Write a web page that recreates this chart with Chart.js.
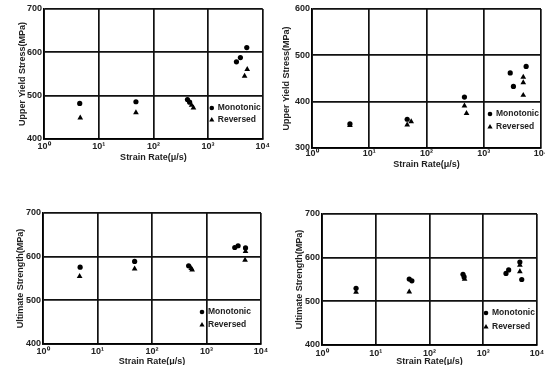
<!DOCTYPE html>
<html>
<head>
<meta charset="utf-8">
<script src="https://cdn.jsdelivr.net/npm/chart.js@4.4.1/dist/chart.umd.min.js"></script>
<style>
  html, body { margin: 0; padding: 0; background: #fff; }
  body { width: 545px; height: 365px; overflow: hidden; position: relative; }
  canvas { position: absolute; }
</style>
</head>
<body>
<canvas id="c1"></canvas>
<canvas id="c2"></canvas>
<canvas id="c3"></canvas>
<canvas id="c4"></canvas>
<script>
// shared axis data
const xTickValues = [1, 10, 100, 1000, 10000];
const xTickLabels = ['10⁰', '10¹', '10²', '10³', '10⁴'];
const seriesNames = ['Monotonic', 'Reversed'];
const xTitle = 'Strain Rate(μ/s)';

// top left: upper yield stress
const yieldA_mono = [[4.5, 482], [48, 486], [420, 491], [460, 485], [3300, 578], [3900, 588], [5100, 611]];
const yieldA_rev = [[4.6, 449], [48, 461], [500, 478], [540, 472], [4650, 545], [5200, 561]];
const yieldA_ticks = [400, 500, 600, 700];

// top right: upper yield stress
const yieldB_mono = [[4.6, 352], [46, 362], [460, 410], [2900, 462], [3300, 433], [5500, 476]];
const yieldB_rev = [[4.6, 349], [46, 350], [54, 357], [460, 391], [500, 375], [4900, 453], [4900, 441], [4900, 414]];
const yieldB_ticks = [300, 400, 500, 600];

// bottom left: ultimate strength
const ultA_mono = [[4.8, 576], [48, 589], [470, 579], [3300, 621], [3800, 625], [5200, 620]];
const ultA_rev = [[4.7, 555], [48, 572], [525, 573], [545, 570], [5200, 612], [5100, 592]];
const ultA_ticks = [400, 500, 600, 700];

// bottom right: ultimate strength
const ultB_mono = [[4.3, 530], [42, 551], [47, 547], [420, 562], [440, 556], [2650, 564], [2970, 572], [4800, 590], [5200, 550]];
const ultB_rev = [[4.3, 521], [42, 522], [450, 551], [4800, 583], [4800, 568]];
const ultB_ticks = [400, 500, 600, 700];

const FONT = '"Liberation Sans", Arial, sans-serif';
Chart.defaults.font.family = FONT;
Chart.defaults.font.size = 9;
Chart.defaults.font.weight = 'bold';
Chart.defaults.color = '#222';

// legend drawn inside the lower right cell
const cornerLegend = {
    id: 'cornerLegend',
    afterDatasetsDraw(chart, args, opts) {
        const { ctx, chartArea } = chart;
        chart.data.datasets.forEach((ds, i) => {
            const x = chartArea.right + opts.dx;
            const y = chartArea.bottom + opts.dy[i];
            ctx.save();
            ctx.fillStyle = '#000';
            Chart.helpers.drawPoint(ctx, {
                pointStyle: ds.pointStyle,
                radius: ds.pointStyle === 'triangle' ? 3 : 2.3,
                rotation: 0,
                borderWidth: 0
            }, x, y);
            ctx.font = 'bold 8.5px ' + FONT;
            ctx.textBaseline = 'middle';
            ctx.textAlign = 'left';
            ctx.fillStyle = '#222';
            ctx.fillText(ds.label, x + opts.gap, y);
            ctx.restore();
        });
    }
};

const toPts = arr => arr.map(p => ({ x: p[0], y: p[1] }));

const panels = [
    { id: 'c1', left: 0, top: 0, w: 272, h: 180, pad: { left: 17, top: 9, right: 8, bottom: 17 },
      yW: 27, xH: 24, tickPad: 2, yTitle: 'Upper Yield Stress(MPa)', mono: yieldA_mono, rev: yieldA_rev,
      yTicks: yieldA_ticks, legend: { dx: -51, dy: [-31, -19], gap: 6 } },
    { id: 'c2', left: 272, top: 0, w: 283, h: 180, pad: { left: 9, top: 9, right: 14, bottom: 10 },
      yW: 31, xH: 22, tickPad: 0, yTitle: 'Upper Yield Stress(MPa)', mono: yieldB_mono, rev: yieldB_rev,
      yTicks: yieldB_ticks, legend: { dx: -51, dy: [-34, -21], gap: 6 } },
    { id: 'c3', left: 0, top: 180, w: 272, h: 190, pad: { left: 15, top: 33, right: 11, bottom: 3 },
      yW: 28, xH: 23, tickPad: 2, yTitle: 'Ultimate Strength(MPa)', mono: ultA_mono, rev: ultA_rev,
      yTicks: ultA_ticks, legend: { dx: -59, dy: [-32, -19], gap: 6 } },
    { id: 'c4', left: 272, top: 180, w: 280, h: 190, pad: { left: 22, top: 34, right: 15, bottom: 3 },
      yW: 28, xH: 22, tickPad: 3, yTitle: 'Ultimate Strength(MPa)', mono: ultB_mono, rev: ultB_rev,
      yTicks: ultB_ticks, legend: { dx: -51, dy: [-32, -18], gap: 6 } }
];

panels.forEach(p => {
    const canvas = document.getElementById(p.id);
    canvas.width = p.w;
    canvas.height = p.h;
    canvas.style.left = p.left + 'px';
    canvas.style.top = p.top + 'px';

    const yMin = p.yTicks[0];
    const yMax = p.yTicks[p.yTicks.length - 1];

    new Chart(canvas, {
        type: 'scatter',
        data: {
            datasets: [
                {
                    label: seriesNames[0],
                    data: toPts(p.mono),
                    pointStyle: 'circle',
                    pointRadius: 2.6,
                    backgroundColor: '#000',
                    borderColor: '#000',
                    borderWidth: 0
                },
                {
                    label: seriesNames[1],
                    data: toPts(p.rev),
                    pointStyle: 'triangle',
                    pointRadius: 3.3,
                    backgroundColor: '#000',
                    borderColor: '#000',
                    borderWidth: 0
                }
            ]
        },
        options: {
            responsive: false,
            animation: false,
            events: [],
            layout: { padding: p.pad },
            scales: {
                x: {
                    type: 'logarithmic',
                    min: xTickValues[0],
                    max: xTickValues[xTickValues.length - 1],
                    afterBuildTicks: s => { s.ticks = xTickValues.map(v => ({ value: v })); },
                    afterFit: s => { s.height = p.xH; },
                    ticks: {
                        autoSkip: false,
                        maxRotation: 0,
                        padding: p.tickPad,
                        callback: (v, i) => xTickLabels[i]
                    },
                    grid: { color: '#111', lineWidth: 1.7, drawTicks: false },
                    border: { color: '#000', width: 1.7 },
                    title: { display: true, text: xTitle, padding: 0 }
                },
                y: {
                    min: yMin,
                    max: yMax,
                    afterBuildTicks: s => { s.ticks = p.yTicks.map(v => ({ value: v })); },
                    afterFit: s => { s.width = p.yW; },
                    ticks: { padding: 2 },
                    grid: { color: '#111', lineWidth: 1.7, drawTicks: false },
                    border: { color: '#000', width: 1.7 },
                    title: { display: true, text: p.yTitle, padding: 0 }
                }
            },
            plugins: {
                legend: { display: false },
                tooltip: { enabled: false },
                cornerLegend: p.legend
            }
        },
        plugins: [cornerLegend]
    });
});
</script>
</body>
</html>
